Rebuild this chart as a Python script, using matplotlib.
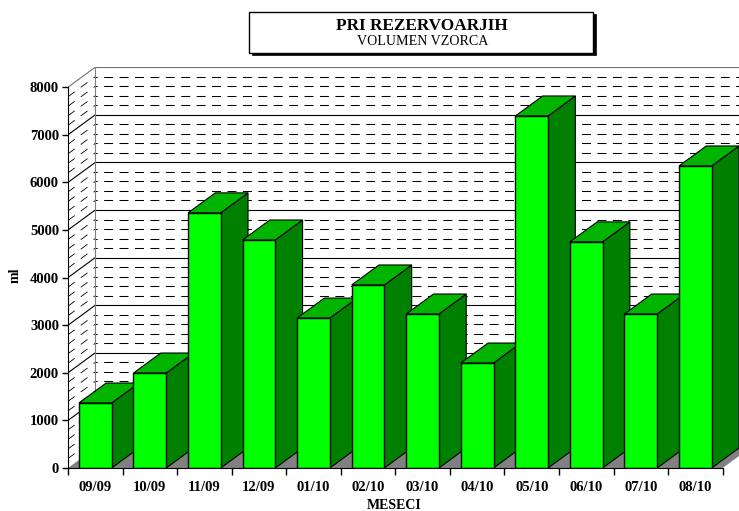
import matplotlib
matplotlib.use("Agg")
import matplotlib.pyplot as plt
from matplotlib.patches import Polygon, Rectangle

# Data
months = ["09/09", "10/09", "11/09", "12/09", "01/10", "02/10",
          "03/10", "04/10", "05/10", "06/10", "07/10", "08/10"]
volume = [1365, 1995, 5360, 4790, 3150, 3845, 3235, 2205, 7395, 4750, 3235, 6345]
y_ticks = [0, 1000, 2000, 3000, 4000, 5000, 6000, 7000, 8000]
minor_levels = [v for v in range(200, 8000, 200) if v % 1000 != 0]

plt.rcParams["font.family"] = ["Liberation Serif", "DejaVu Serif"]

W, H = 739, 511
fig = plt.figure(figsize=(W / 100, H / 100), dpi=100)
# one x unit = one month slot, 3D depth is a fixed offset in data units
ax = fig.add_axes([68 / W, (H - 468) / H, (W - 68) / W, 401 / H])
ax.set_xlim(0, 12.3)
ax.set_ylim(0, 8424)
dx, dy = 0.5, 420
bar_w = 0.6
n = len(months)

# floor
ax.add_patch(Polygon([(0, 0), (n, 0), (n + dx, dy), (dx, dy)], fc="#808080", ec="none", zorder=1))

# walls, dashed lines first
for v in minor_levels:
    ax.plot([dx, n + dx], [v + dy, v + dy], color="black", lw=0.75,
            linestyle=(6.5, (8.6, 6.2)), zorder=1)
    ax.plot([0, dx], [v, v + dy], color="black", lw=0.6, dashes=(10, 9), zorder=1)
for v in y_ticks[1:]:
    col = "#707070" if v == 8000 else "black"
    ax.plot([dx, n + dx], [v + dy, v + dy], color=col, lw=0.8, zorder=1)
    ax.plot([0, dx], [v, v + dy], color=col, lw=0.8, zorder=1)
ax.plot([dx, dx], [dy, 8000 + dy], color="#808080", lw=0.8, zorder=1)

# bars, left to right so each one covers the side of the previous
for i, v in enumerate(volume):
    x0 = i + (1 - bar_w) / 2
    x1 = x0 + bar_w
    z = 2 + i
    ax.add_patch(Polygon([(x1, 0), (x1 + dx, dy), (x1 + dx, v + dy), (x1, v)],
                         fc="#008000", ec="black", lw=0.8, zorder=z))
    ax.add_patch(Polygon([(x0, v), (x1, v), (x1 + dx, v + dy), (x0 + dx, v + dy)],
                         fc="#00b400", ec="black", lw=0.8, zorder=z))
    ax.bar(x0, v, width=bar_w, align="edge", color="#00ff00", edgecolor="black", lw=1, zorder=z)

# axes
ax.patch.set_visible(False)
for s in ["top", "right"]:
    ax.spines[s].set_visible(False)
ax.spines["left"].set_bounds(0, 8000)
ax.spines["bottom"].set_bounds(0, n)
ax.spines["left"].set_zorder(20)
ax.spines["bottom"].set_zorder(20)
ax.set_yticks(y_ticks)
ax.set_yticklabels([str(v) for v in y_ticks], fontsize=10.5, fontweight="bold")
ax.tick_params(axis="y", length=4.5, width=1, pad=2)
ax.set_xticks(range(n + 1))
ax.set_xticklabels([])
ax.tick_params(axis="x", which="major", length=5, width=1)
ax.set_xticks([i + 0.5 for i in range(n)], minor=True)
ax.set_xticklabels(months, minor=True, fontsize=10.5, fontweight="bold")
ax.tick_params(axis="x", which="minor", length=0, pad=9)

fig.text(15 / W, 1 - 275 / H, "ml", rotation=90, ha="center", va="center", fontsize=10, fontweight="bold")
fig.text(394 / W, 1 - 505 / H, "MESECI", ha="center", va="center", fontsize=10, fontweight="bold")

# title box with drop shadow
fig.add_artist(Rectangle((251.5 / W, 1 - 55.5 / H), 344 / W, 41 / H, transform=fig.transFigure, fc="black", ec="black", lw=0.5))
fig.add_artist(Rectangle((249 / W, 1 - 53 / H), 344 / W, 41 / H, transform=fig.transFigure, fc="white", ec="black", lw=1))
fig.text(422 / W, 1 - 25.5 / H, "PRI REZERVOARJIH", ha="center", va="center", fontsize=12.4, fontweight="bold")
fig.text(423 / W, 1 - 41.5 / H, "VOLUMEN VZORCA", ha="center", va="center", fontsize=10.1)

fig.savefig("out.png", dpi=100)
